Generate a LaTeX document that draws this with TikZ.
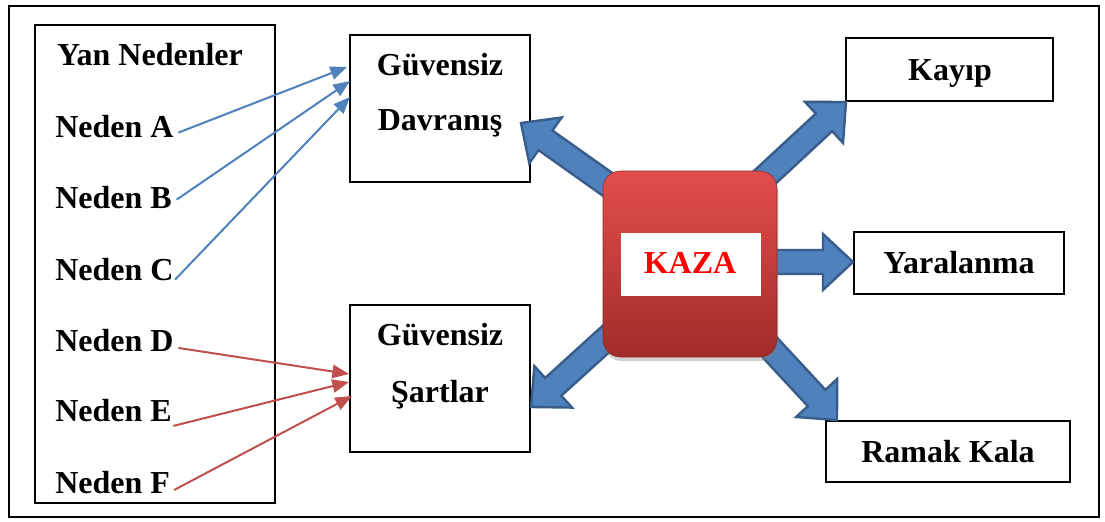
\documentclass[tikz,border=0pt]{standalone}
\usepackage{fontspec}
\setmainfont{Liberation Serif}
\usetikzlibrary{calc,arrows.meta,shadows,fit}

\definecolor{arrblue}{RGB}{79,129,189}
\definecolor{arrblueedge}{RGB}{56,93,138}
\definecolor{linkred}{RGB}{192,80,77}
\definecolor{kazatop}{RGB}{226,78,75}
\definecolor{kazabot}{RGB}{160,44,42}
\definecolor{kazatext}{RGB}{255,0,0}

\tikzset{
  lbl/.style={font=\fontsize{24}{28}\selectfont\bfseries, inner sep=0pt},
  box/.style={draw, line width=1.6pt, inner sep=0pt},
  bluelink/.style={draw=arrblue, line width=1.5pt, -{Triangle[length=12.5pt,width=10pt]}},
  redlink/.style={draw=linkred, line width=1.5pt, -{Triangle[length=12.5pt,width=10pt]}},
  blockarr/.style={fill=arrblue, draw=arrblueedge, line width=1.8pt, line join=miter},
}

% wide block arrow from #1 (tail) to #2 (tip)
\newcommand\kazaarrow[2]{%
  \path coordinate (bahead) at ($(#2)!22.5pt!(#1)$);
  \draw[blockarr] ($(#1)!9pt!90:(#2)$) -- ($(bahead)!9pt!-90:(#1)$)
    -- ($(bahead)!21pt!-90:(#1)$) -- (#2) -- ($(bahead)!21pt!90:(#1)$)
    -- ($(bahead)!9pt!90:(#1)$) -- ($(#1)!9pt!-90:(#2)$) -- cycle;
}

\begin{document}
\begin{tikzpicture}[x=0.75pt,y=-0.75pt]
  \useasboundingbox (0,0) rectangle (1105,521);
  \fill[white] (0,0) rectangle (1105,521);

  % outer frame
  \node[box, line width=2.2pt, fit={(9,6) (1099,517)}] (frame) {};

  % side causes
  \node[box, fit={(35,25) (275,503)}] (side) {};
  \node[lbl, anchor=base] (yan) at (150,65) {Yan Nedenler};
  \node[lbl, anchor=base west] (na) at (55,137) {Neden A};
  \node[lbl, anchor=base west] (nb) at (55,208) {Neden B};
  \node[lbl, anchor=base west] (nc) at (55,280) {Neden C};
  \node[lbl, anchor=base west] (nd) at (55,351) {Neden D};
  \node[lbl, anchor=base west] (ne) at (55,421) {Neden E};
  \node[lbl, anchor=base west] (nf) at (55,493) {Neden F};

  % unsafe acts / conditions
  \node[box, fit={(350,35) (530,182)}] (davr) {};
  \node[lbl, anchor=base] (davr1) at (440,75) {Güvensiz};
  \node[lbl, anchor=base] (davr2) at (440,130) {Davranış};
  \node[box, fit={(350,305) (530,452)}] (sart) {};
  \node[lbl, anchor=base] (sart1) at (440,345) {Güvensiz};
  \node[lbl, anchor=base] (sart2) at (440,402) {Şartlar};

  % outcomes
  \node[box, fit={(846,38) (1053,101)}] (kayip) {};
  \node[lbl, anchor=base] (kayipt) at (950,80) {Kayıp};
  \node[box, fit={(854,232) (1064,294)}] (yara) {};
  \node[lbl, anchor=base] (yarat) at (959,273) {Yaralanma};
  \node[box, fit={(826,421) (1070,482)}] (ramak) {};
  \node[lbl, anchor=base] (ramakt) at (948,462) {Ramak Kala};

  % cause links
  \coordinate (da1) at (347,67);
  \coordinate (da2) at (350,81);
  \coordinate (da3) at (350,97);
  \coordinate (sa1) at (349,374);
  \coordinate (sa2) at (349,382);
  \coordinate (sa3) at (352,396);
  \draw[bluelink] ([xshift=3.5pt,yshift=1pt]na.mid east) -- (da1);
  \draw[bluelink] ([xshift=3.5pt,yshift=4pt]nb.mid east) -- (da2);
  \draw[bluelink] ([xshift=1pt,yshift=-2pt]nc.mid east) -- (da3);
  \draw[redlink] ([xshift=3.5pt]nd.mid east) -- (sa1);
  \draw[redlink] ([xshift=1pt,yshift=-6pt]ne.mid east) -- (sa2);
  \draw[redlink] ([xshift=3pt]nf.mid east) -- (sa3);

  % block arrows leaving the accident box
  \coordinate (tdavr) at (521,123);
  \coordinate (tkayip) at (846,102);
  \coordinate (tyara) at (853,262);
  \coordinate (tsart) at (531,407);
  \coordinate (tramak) at (837,420);
  \coordinate (sdavr) at (648,213);
  \coordinate (skayip) at (737,203);
  \coordinate (syara) at (750,262);
  \coordinate (ssart) at (639,309);
  \coordinate (sramak) at (736,311);
  \kazaarrow{sdavr}{tdavr}
  \kazaarrow{skayip}{tkayip}
  \kazaarrow{syara}{tyara}
  \kazaarrow{ssart}{tsart}
  \kazaarrow{sramak}{tramak}

  % accident box
  \node[fit={(603,171) (777,357)}, inner sep=0pt, rounded corners=13pt,
        top color=kazatop, bottom color=kazabot, draw=kazabot!90!black, line width=0.4pt,
        drop shadow={opacity=0.35, shadow xshift=1pt, shadow yshift=-3pt}] (kaza) {};
  \node[fill=white, inner sep=0pt, fit={(621,233) (761,296)}] (kazain) {};
  \node[lbl, anchor=base, text=kazatext] (kazat) at (690,273) {KAZA};
\end{tikzpicture}
\end{document}
